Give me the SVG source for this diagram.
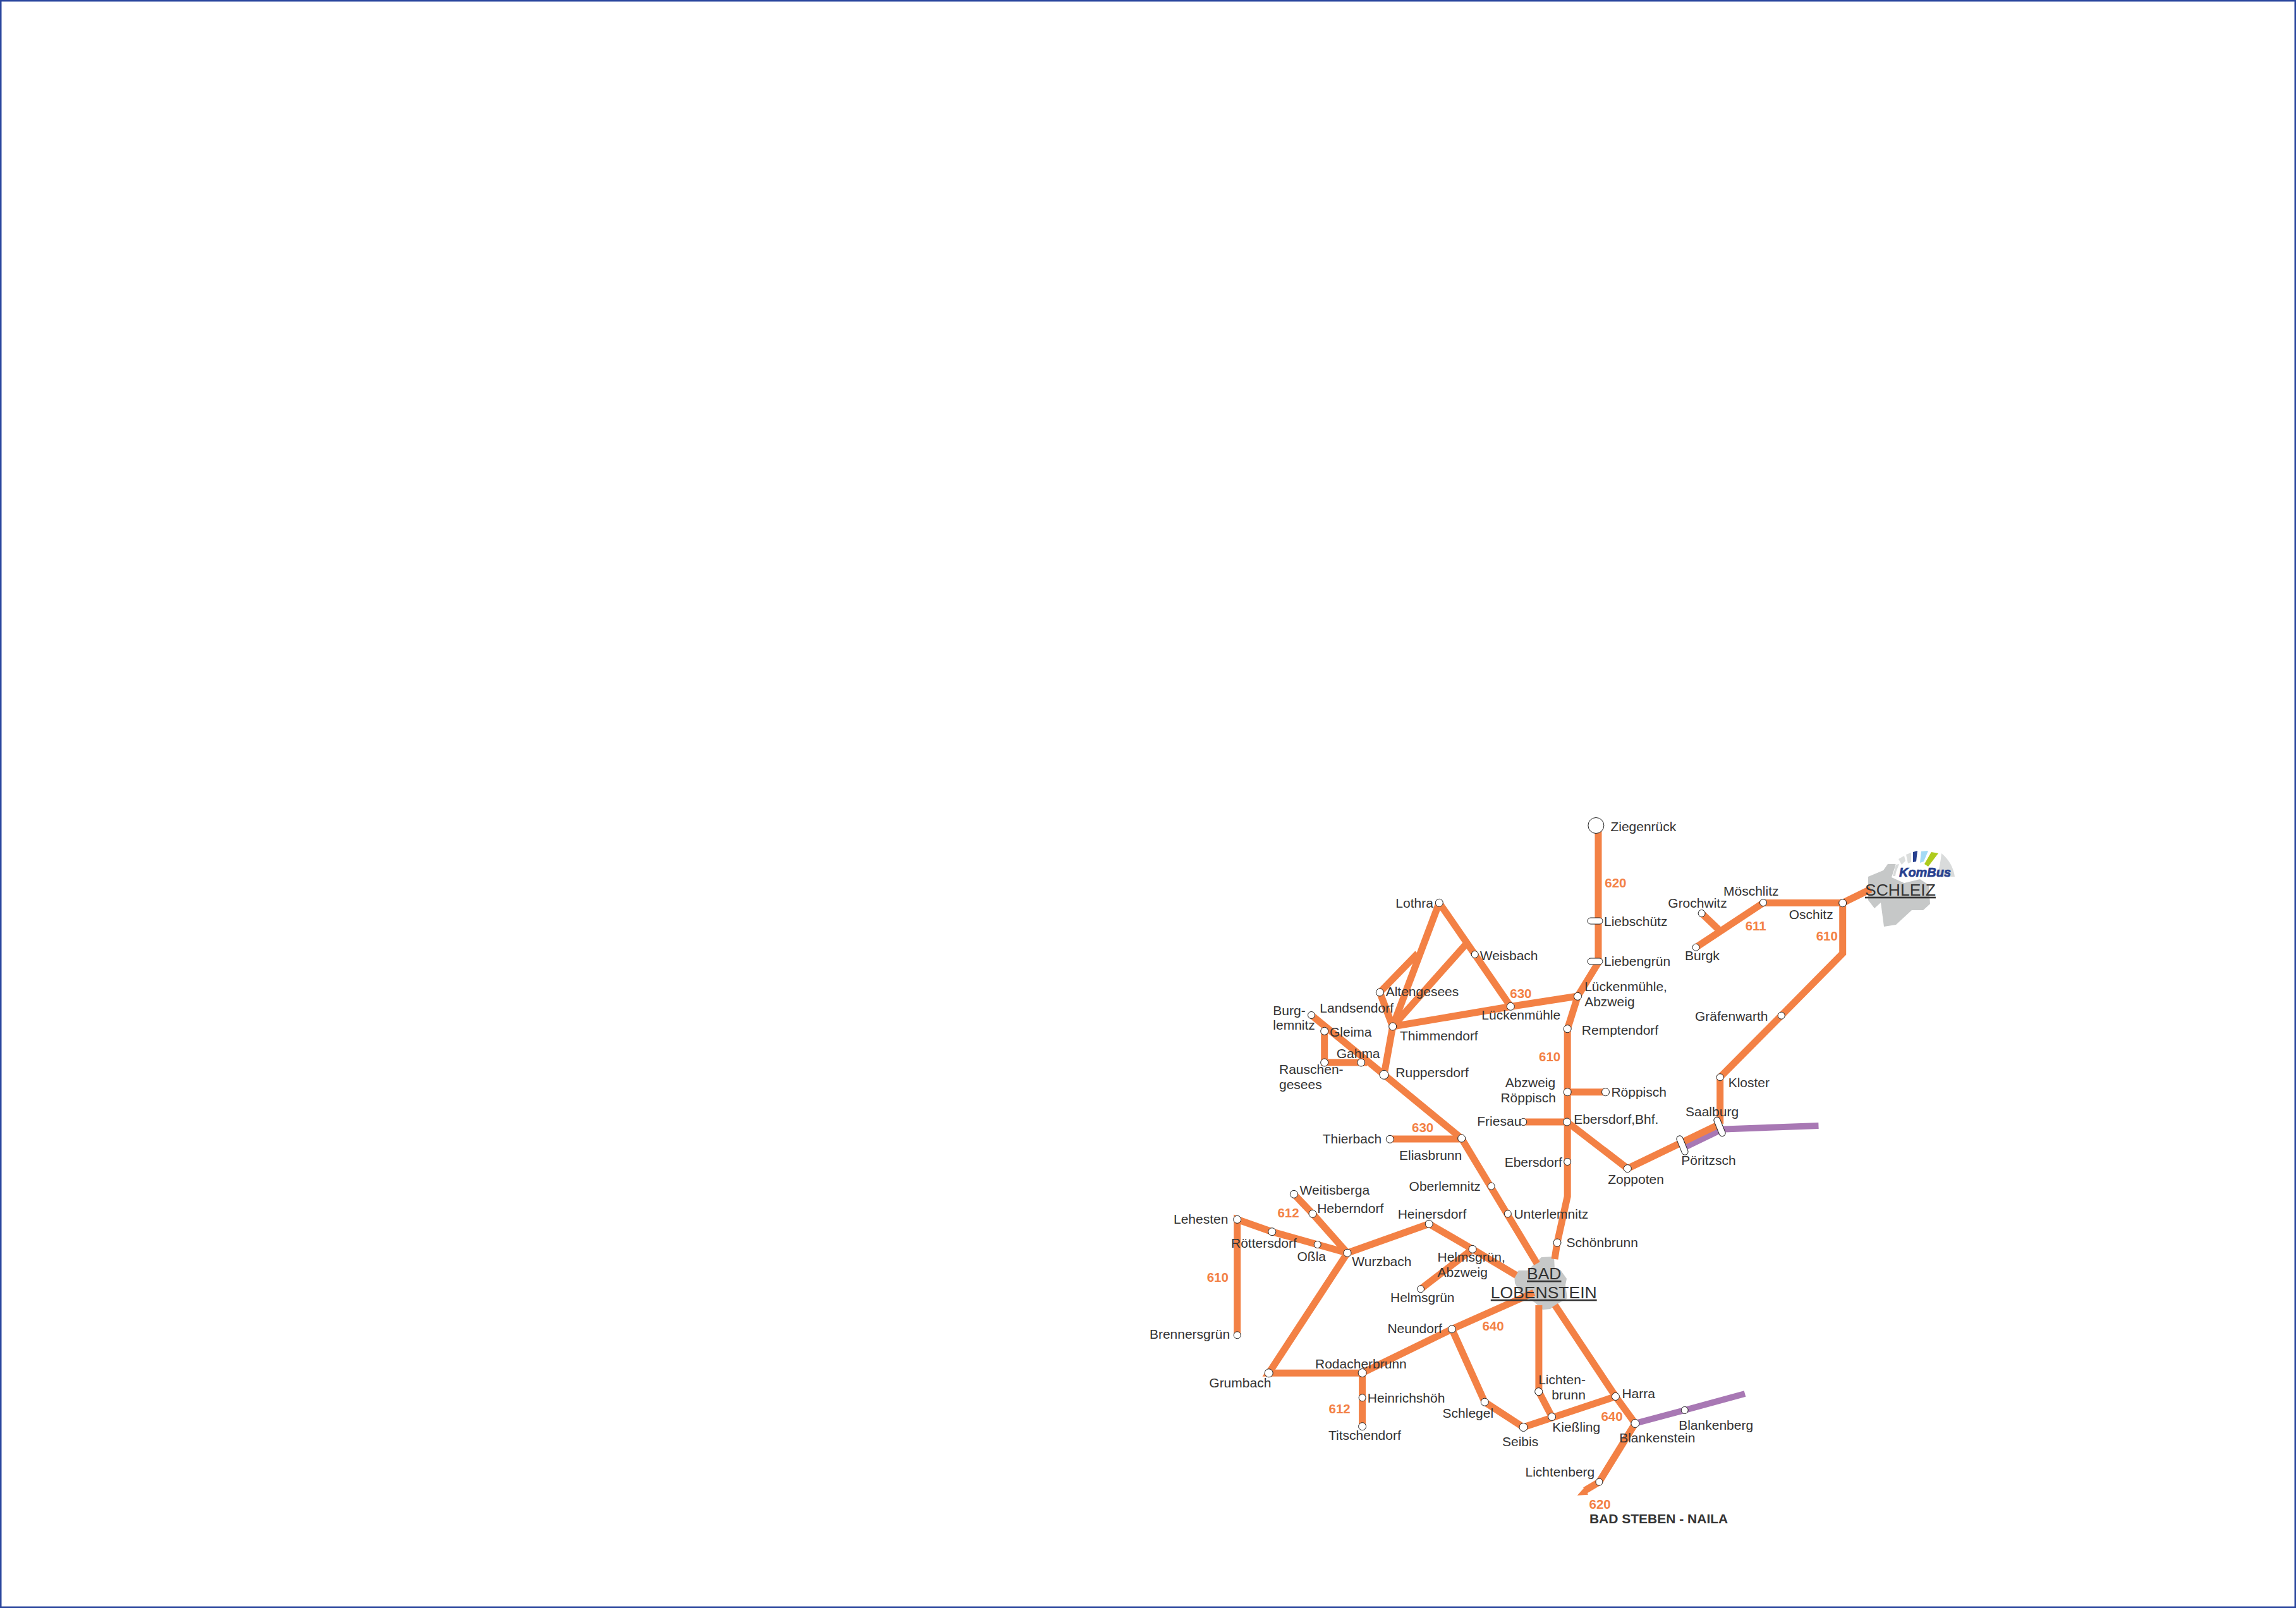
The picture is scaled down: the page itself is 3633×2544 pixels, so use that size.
<svg xmlns="http://www.w3.org/2000/svg" width="3633" height="2544" viewBox="0 0 3633 2544">
<style>
text{font-family:"Liberation Sans",Arial,sans-serif}
.t{font-size:21px;fill:#333}
.n{font-size:20.5px;font-weight:bold;fill:#f38145}
.c{font-size:26.5px;fill:#333;text-decoration:underline}
.b{font-size:21px;font-weight:bold;fill:#333}
.o{fill:none;stroke:#f38145;stroke-width:11;stroke-linejoin:miter}
.p{fill:none;stroke:#a878b4;stroke-width:10}
.s{fill:#fff;stroke:#222;stroke-width:1}
.city{fill:#c6c8c8}
</style>
<rect id="frame" x="1" y="1" width="3631" height="2542" fill="#fff" stroke="#2b479e" stroke-width="3"/>
<g id="city-areas">
<polygon class="city" points="2956,1387 2980,1377 2987,1367 3000,1367 2993,1388 3013,1397 3038,1391 3052,1400 3054,1430 3043,1440 3025,1440 3000,1463 2981,1466 2976,1428 2966,1437 2956,1424"/>
<polygon class="city" points="2396,2017 2403,2010 2417,2010 2439,1989 2459,1988 2460,2009 2469,2009 2479,2023 2477,2033 2480,2054 2464,2063 2453,2071 2441,2072 2429,2061 2418,2054 2402,2040 2397,2030"/>
</g>
<g id="connectors">
<path class="p" d="M2664 1816L2726 1786"/>
<path class="p" d="M2722 1786.7L2877.5 1781"/>
<path class="p" d="M2587 2252L2665.7 2231L2761 2205"/>
<path class="o" d="M2529 1306V1523L2496.5 1576L2480.2 1628V1893L2464 1966L2460 1992"/>
<path class="o" d="M2496.5 1576L2390 1592.5L2203.7 1624"/>
<path class="o" d="M2277.3 1428.3L2390.3 1592.3"/>
<path class="o" d="M2203.7 1624L2277.3 1428.3"/>
<path class="o" d="M2243.3 1508.3L2183.3 1570L2203.7 1624L2320 1493.3"/>
<path class="o" d="M2203.7 1624L2190 1700.3"/>
<path class="o" d="M2075 1606L2190 1700.3L2312.5 1801L2432 1999"/>
<path class="o" d="M2095.7 1631.3V1681H2163"/>
<path class="o" d="M2199.3 1802H2312.5"/>
<path class="o" d="M2480.2 1727.7H2540.5"/>
<path class="o" d="M2410.3 1775H2480.2"/>
<path class="o" d="M2479.5 1775L2575.3 1848.7L2717 1780.5"/>
<path class="o" d="M2721.7 1778V1704.3L2818.7 1606.7L2915.7 1508.3V1428.5H2790L2683.5 1498.8"/>
<path class="o" d="M2692.6 1445L2723 1474"/>
<path class="o" d="M2915.7 1428.5L2960 1406.7"/>
<path class="o" d="M2047.4 1889.3L2077 1920.3L2132 1982.3L2261.2 1936.3L2330 1976.3L2399 2017.5"/>
<path class="o" d="M1957.7 2112.3V1929.3L2012.8 1948.7L2084.7 1969L2132 1982.3L2007.7 2172.3H2155.6V2256.7"/>
<path class="o" d="M2248 2039.3L2330 1976.3"/>
<path class="o" d="M2155.6 2172L2297.4 2102.8L2427 2045"/>
<path class="o" d="M2297.4 2102.8L2349.3 2218.2L2410.5 2258L2556.4 2209.4"/>
<path class="o" d="M2434.9 2065V2201.7L2455.6 2241.5"/>
<path class="o" d="M2460.5 2065L2556.4 2209.4L2587.4 2252L2530.4 2344.6L2508 2358"/>
<polygon fill="#f38145" points="2495.6,2366 2507.8,2352.5 2513,2364.8"/>
</g>
<g id="logo-kombus">
<path fill="#d9dbdb" d="M3072 1350Q3090 1365 3093 1387L3065 1387Q3070 1370 3072 1350Z"/>
<polygon fill="#fff" points="2995,1387 3000,1366 3005,1367 3000,1387"/>
<path fill="#d9dbdb" d="M2995 1386L3000 1368L3005 1367L3000 1380L2999 1386Z"/>
<polygon fill="#dcdedd" points="3004,1359 3013,1354 3015,1362 3009,1368"/>
<polygon fill="#dcdedd" points="3016,1352 3024,1349 3024,1364 3019,1366"/>
<polygon fill="#27408f" points="3027,1348 3034,1346 3032,1363 3027,1364"/>
<polygon fill="#a3daf5" points="3040,1347 3051,1346 3044,1363 3038,1365"/>
<polygon fill="#aecb1d" points="3056,1348 3067,1350 3051,1371 3045,1367"/>
<text x="3005" y="1386.7" font-size="20" font-weight="bold" font-style="italic" fill="#27408f" stroke="#27408f" stroke-width="0.7" textLength="82" lengthAdjust="spacingAndGlyphs">KomBus</text>
</g>
<g id="nodes">
<g id="n-ziegenrueck"><circle class="s" cx="2525.4" cy="1306" r="12.5"/><text class="t" x="2548.4" y="1314.8">Ziegenrück</text></g>
<g id="n-liebschuetz"><rect class="s" x="2512" y="1452" width="24" height="10" rx="5"/><text class="t" x="2538" y="1464.8">Liebschütz</text></g>
<g id="n-liebengruen"><rect class="s" x="2512" y="1516" width="24" height="10" rx="5"/><text class="t" x="2538" y="1527.8">Liebengrün</text></g>
<g id="n-lueckenmuehle-abzweig"><circle class="s" cx="2496.5" cy="1576.3" r="6"/><text class="t" x="2507.2" y="1568.3">Lückenmühle,</text><text class="t" x="2507.2" y="1592.3">Abzweig</text></g>
<g id="n-remptendorf"><circle class="s" cx="2480.2" cy="1627.7" r="6"/><text class="t" x="2502.8" y="1637.3">Remptendorf</text></g>
<g id="n-abzweig-roeppisch"><circle class="s" cx="2480.2" cy="1727.7" r="6"/><text class="t" x="2381.8" y="1720.3">Abzweig</text><text class="t" x="2374.4" y="1744">Röppisch</text></g>
<g id="n-roeppisch"><circle class="s" cx="2540.5" cy="1727.7" r="6"/><text class="t" x="2549.4" y="1735">Röppisch</text></g>
<g id="n-ebersdorf-bhf"><circle class="s" cx="2479.5" cy="1775" r="6"/><text class="t" x="2490.2" y="1777.7">Ebersdorf,Bhf.</text></g>
<g id="n-friesau"><circle class="s" cx="2410.3" cy="1775" r="5.5"/><text class="t" x="2337.3" y="1780.7">Friesau</text></g>
<g id="n-ebersdorf"><circle class="s" cx="2480.2" cy="1838" r="5.5"/><text class="t" x="2380.7" y="1845.7">Ebersdorf</text></g>
<g id="n-zoppoten"><circle class="s" cx="2575.3" cy="1848.7" r="6"/><text class="t" x="2544.2" y="1872.7">Zoppoten</text></g>
<g id="n-poeritzsch"><rect class="s" x="2657" y="1796" width="10" height="32" rx="5" transform="rotate(-22 2662 1812)"/><text class="t" x="2660.3" y="1843.3">Pöritzsch</text></g>
<g id="n-saalburg"><rect class="s" x="2716" y="1766.5" width="10" height="32" rx="5" transform="rotate(-22 2721 1782.5)"/><text class="t" x="2667" y="1766">Saalburg</text></g>
<g id="n-kloster"><circle class="s" cx="2721.7" cy="1704.3" r="5.5"/><text class="t" x="2734.7" y="1720">Kloster</text></g>
<g id="n-graefenwarth"><circle class="s" cx="2818.7" cy="1606.7" r="5.5"/><text class="t" x="2682" y="1615">Gräfenwarth</text></g>
<g id="n-oschitz"><circle class="s" cx="2915.7" cy="1428.7" r="6"/><text class="t" x="2830.7" y="1454.3">Oschitz</text></g>
<g id="n-moeschlitz"><circle class="s" cx="2790" cy="1428" r="5.5"/><text class="t" x="2727" y="1417">Möschlitz</text></g>
<g id="n-grochwitz"><circle class="s" cx="2692.6" cy="1445" r="5.5"/><text class="t" x="2639.3" y="1435.8">Grochwitz</text></g>
<g id="n-burgk"><circle class="s" cx="2683.5" cy="1498.8" r="5.5"/><text class="t" x="2666" y="1518.7">Burgk</text></g>
<g id="n-schleiz"><text class="c" x="2951" y="1416.7">SCHLEIZ</text></g>
<g id="n-lothra"><circle class="s" cx="2277.3" cy="1428.3" r="6"/><text class="t" x="2208.3" y="1435.7">Lothra</text></g>
<g id="n-weisbach"><circle class="s" cx="2333.7" cy="1510" r="5.5"/><text class="t" x="2341.7" y="1519">Weisbach</text></g>
<g id="n-lueckenmuehle"><circle class="s" cx="2390.3" cy="1592.3" r="6"/><text class="t" x="2344.3" y="1613.3">Lückenmühle</text></g>
<g id="n-thimmendorf"><circle class="s" cx="2203.7" cy="1624" r="6"/><text class="t" x="2215" y="1646">Thimmendorf</text></g>
<g id="n-altengesees"><circle class="s" cx="2183.3" cy="1570" r="6"/><text class="t" x="2192.7" y="1575.7">Altengesees</text></g>
<g id="n-landsendorf"><text class="t" x="2088.3" y="1601.7">Landsendorf</text></g>
<g id="n-burglemnitz"><circle class="s" cx="2075" cy="1606" r="5.5"/><text class="t" x="2014.3" y="1605.7">Burg-</text><text class="t" x="2014.3" y="1629.3">lemnitz</text></g>
<g id="n-gleima"><circle class="s" cx="2095.7" cy="1631.3" r="6"/><text class="t" x="2104" y="1639.7">Gleima</text></g>
<g id="n-rauschengesees"><circle class="s" cx="2095.7" cy="1681" r="6"/><text class="t" x="2024" y="1699.3">Rauschen-</text><text class="t" x="2024" y="1722.7">gesees</text></g>
<g id="n-gahma"><circle class="s" cx="2153.7" cy="1681" r="6"/><text class="t" x="2114.7" y="1674">Gahma</text></g>
<g id="n-ruppersdorf"><circle class="s" cx="2190" cy="1700.3" r="7"/><text class="t" x="2208.3" y="1704.3">Ruppersdorf</text></g>
<g id="n-thierbach"><circle class="s" cx="2199.3" cy="1802.3" r="6"/><text class="t" x="2092.7" y="1809">Thierbach</text></g>
<g id="n-eliasbrunn"><circle class="s" cx="2312.7" cy="1801" r="6"/><text class="t" x="2214" y="1834.7">Eliasbrunn</text></g>
<g id="n-oberlemnitz"><circle class="s" cx="2359.7" cy="1876.7" r="5.5"/><text class="t" x="2229.6" y="1883.7">Oberlemnitz</text></g>
<g id="n-unterlemnitz"><circle class="s" cx="2385.8" cy="1920.3" r="5.5"/><text class="t" x="2395.4" y="1927.7">Unterlemnitz</text></g>
<g id="n-schoenbrunn"><circle class="s" cx="2464" cy="1966" r="6"/><text class="t" x="2478.6" y="1972.7">Schönbrunn</text></g>
<g id="n-weitisberga"><circle class="s" cx="2047.4" cy="1889.3" r="6"/><text class="t" x="2056.6" y="1890">Weitisberga</text></g>
<g id="n-heberndorf"><circle class="s" cx="2077" cy="1920.3" r="6"/><text class="t" x="2084.2" y="1919">Heberndorf</text></g>
<g id="n-lehesten"><circle class="s" cx="1957.7" cy="1929.3" r="6"/><text class="t" x="1857" y="1936">Lehesten</text></g>
<g id="n-roettersdorf"><circle class="s" cx="2012.8" cy="1948.7" r="6"/><text class="t" x="1948" y="1974">Röttersdorf</text></g>
<g id="n-ossla"><circle class="s" cx="2084.7" cy="1969" r="5.5"/><text class="t" x="2052.5" y="1995.3">Oßla</text></g>
<g id="n-wurzbach"><circle class="s" cx="2132" cy="1982.3" r="6"/><text class="t" x="2139.3" y="2003">Wurzbach</text></g>
<g id="n-heinersdorf"><circle class="s" cx="2261.2" cy="1936.3" r="6"/><text class="t" x="2211.7" y="1927.7">Heinersdorf</text></g>
<g id="n-helmsgruen-abzweig"><circle class="s" cx="2330" cy="1976.3" r="6"/><text class="t" x="2274.5" y="1995.7">Helmsgrün,</text><text class="t" x="2274.5" y="2020.3">Abzweig</text></g>
<g id="n-helmsgruen"><circle class="s" cx="2248" cy="2039.3" r="5.5"/><text class="t" x="2200" y="2060">Helmsgrün</text></g>
<g id="n-lobenstein"><text class="c" x="2416" y="2023.8">BAD</text><text class="c" x="2358.8" y="2053.7">LOBENSTEIN</text></g>
<g id="n-brennersgruen"><circle class="s" cx="1957.7" cy="2112.3" r="5.5"/><text class="t" x="1818.9" y="2117.7">Brennersgrün</text></g>
<g id="n-neundorf"><circle class="s" cx="2297.4" cy="2102.8" r="6"/><text class="t" x="2195.4" y="2108.7">Neundorf</text></g>
<g id="n-grumbach"><circle class="s" cx="2007.7" cy="2172.3" r="6.5"/><text class="t" x="1913.3" y="2195.3">Grumbach</text></g>
<g id="n-rodacherbrunn"><circle class="s" cx="2155.6" cy="2172" r="6.5"/><text class="t" x="2081" y="2164.7">Rodacherbrunn</text></g>
<g id="n-heinrichshoeh"><circle class="s" cx="2155.6" cy="2211.3" r="5.5"/><text class="t" x="2163.8" y="2219.3">Heinrichshöh</text></g>
<g id="n-titschendorf"><circle class="s" cx="2155.6" cy="2256.7" r="6"/><text class="t" x="2102" y="2278.3">Titschendorf</text></g>
<g id="n-schlegel"><circle class="s" cx="2349.3" cy="2218.2" r="6"/><text class="t" x="2282.6" y="2242.7">Schlegel</text></g>
<g id="n-seibis"><circle class="s" cx="2410.5" cy="2258" r="6.5"/><text class="t" x="2377" y="2288.3">Seibis</text></g>
<g id="n-kiessling"><circle class="s" cx="2455.6" cy="2241.5" r="6"/><text class="t" x="2456.3" y="2264.5">Kießling</text></g>
<g id="n-lichtenbrunn"><circle class="s" cx="2434.7" cy="2201.7" r="6"/><text class="t" x="2434.2" y="2190">Lichten-</text><text class="t" x="2455.2" y="2214">brunn</text></g>
<g id="n-harra"><circle class="s" cx="2556.4" cy="2209.4" r="6"/><text class="t" x="2566.4" y="2211.9">Harra</text></g>
<g id="n-blankenstein"><circle class="s" cx="2587.4" cy="2252" r="6.5"/><text class="t" x="2562.2" y="2281.7">Blankenstein</text></g>
<g id="n-blankenberg"><circle class="s" cx="2665.7" cy="2231" r="5.5"/><text class="t" x="2656.2" y="2261.7">Blankenberg</text></g>
<g id="n-lichtenberg"><circle class="s" cx="2530.4" cy="2344.6" r="5.5"/><text class="t" x="2413.5" y="2335.7">Lichtenberg</text></g>
</g>
<g id="line-numbers">
<text class="n" x="2539.3" y="1403.9">620</text>
<text class="n" x="2761.7" y="1471.9">611</text>
<text class="n" x="2873.7" y="1487.7">610</text>
<text class="n" x="2389.3" y="1579">630</text>
<text class="n" x="2435" y="1679.3">610</text>
<text class="n" x="2234" y="1790.7">630</text>
<text class="n" x="2021.4" y="1925.7">612</text>
<text class="n" x="1909.7" y="2027.7">610</text>
<text class="n" x="2345.4" y="2105">640</text>
<text class="n" x="2102.5" y="2235.7">612</text>
<text class="n" x="2533.4" y="2248.3">640</text>
<text class="n" x="2514.5" y="2386.6">620</text>
<text class="b" x="2514.9" y="2410.4">BAD STEBEN - NAILA</text>
</g>
</svg>
